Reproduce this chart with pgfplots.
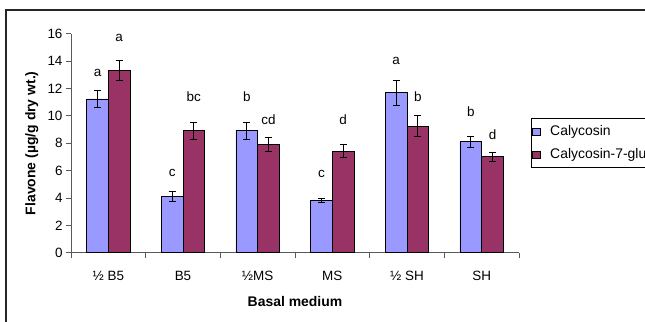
\documentclass[border=0pt]{standalone}
\usepackage{fontspec}
\setmainfont{Liberation Sans}
\usepackage{pgfplots}
\pgfplotsset{compat=1.18}
\definecolor{calblue}{HTML}{9999FF}
\definecolor{calred}{HTML}{993366}
\begin{document}
\begin{tikzpicture}
\path[use as bounding box] (0bp,0bp) rectangle (645bp,-322bp);
\draw[line width=1.3bp, black!85] (6bp,-10bp) rectangle (800bp,-500bp);
\begin{axis}[
  at={(71bp,-252.7bp)}, anchor=south west,
  width=448bp, height=219bp, scale only axis,
  xmin=-0.5, xmax=5.5, ymin=0, ymax=16,
  axis lines*=left,
  axis line style={black!65, line width=1bp},
  xtick={-0.5,0.5,...,5.5},
  x tick label as interval,
  xticklabels={½ B5, B5, ½MS, MS, ½ SH, SH},
  ytick={0,2,...,16},
  tick align=outside, major tick length=5bp,
  tick style={black!65, line width=0.8bp},
  /pgf/number format/assume math mode=true,
  tick label style={font=\fontsize{13.5}{16}\selectfont},
  xticklabel style={yshift=-10bp},
  ylabel={\bfseries Flavone (µg/g dry wt.)},
  xlabel={\bfseries Basal medium},
  label style={font=\fontsize{14}{16}\selectfont},
  ylabel style={at={(axis description cs:-0.0877,0.5)}, anchor=center},
  xlabel style={at={(axis description cs:0.5,-0.2237)}, anchor=center},
  legend style={at={(axis description cs:1.0268,0.6137)}, anchor=north west,
    draw=black, line width=0.8bp, inner xsep=1bp, inner ysep=5bp,
    font=\fontsize{14}{16}\selectfont, row sep=7.5bp,
    /tikz/every odd column/.append style={column sep=8bp}},
  legend cell align=left,
  legend image code/.code={\draw[#1, draw=black, line width=0.6bp] (0bp,-3.6bp) rectangle (7.2bp,3.6bp);},
  error bars/error mark options={rotate=90, mark size=3.6bp, line width=0.8bp, black},
]
\addplot[ybar, bar width=21.7bp, bar shift=-10.85bp, fill=calblue, draw=black, line width=0.8bp,
  error bars/.cd, y dir=both, y explicit,
  error bar style={black, line width=0.8bp, xshift=-10.85bp}]
  table[x=x, y=y, y error=e] {
x y e
0 11.23 0.65
1 4.12 0.35
2 8.91 0.60
3 3.80 0.15
4 11.69 0.90
5 8.11 0.40
};
\addlegendentry{Calycosin}
\addplot[ybar, bar width=21.7bp, bar shift=10.85bp, fill=calred, draw=black, line width=0.8bp,
  error bars/.cd, y dir=both, y explicit,
  error bar style={black, line width=0.8bp, xshift=10.85bp}]
  table[x=x, y=y, y error=e] {
x y e
0 13.32 0.70
1 8.91 0.60
2 7.92 0.50
3 7.43 0.50
4 9.25 0.75
5 7.01 0.32
};
\addlegendentry{Calycosin-7-glucoside}
\addplot[forget plot, draw=none, mark=none, nodes near coords, point meta=explicit symbolic,
  every node near coord/.append style={anchor=center, font=\fontsize{13.5}{16}\selectfont}]
  table[x=x, y=y, meta=l] {
x y l
-0.145 13.1 a
0.855 5.8 c
1.855 11.4 b
2.855 5.72 c
3.855 14.0 a
4.855 10.28 b
0.145 15.66 a
1.145 11.4 bc
2.145 9.74 cd
3.145 9.74 d
4.145 11.4 b
5.145 8.6 d
};
\end{axis}
\end{tikzpicture}
\end{document}
